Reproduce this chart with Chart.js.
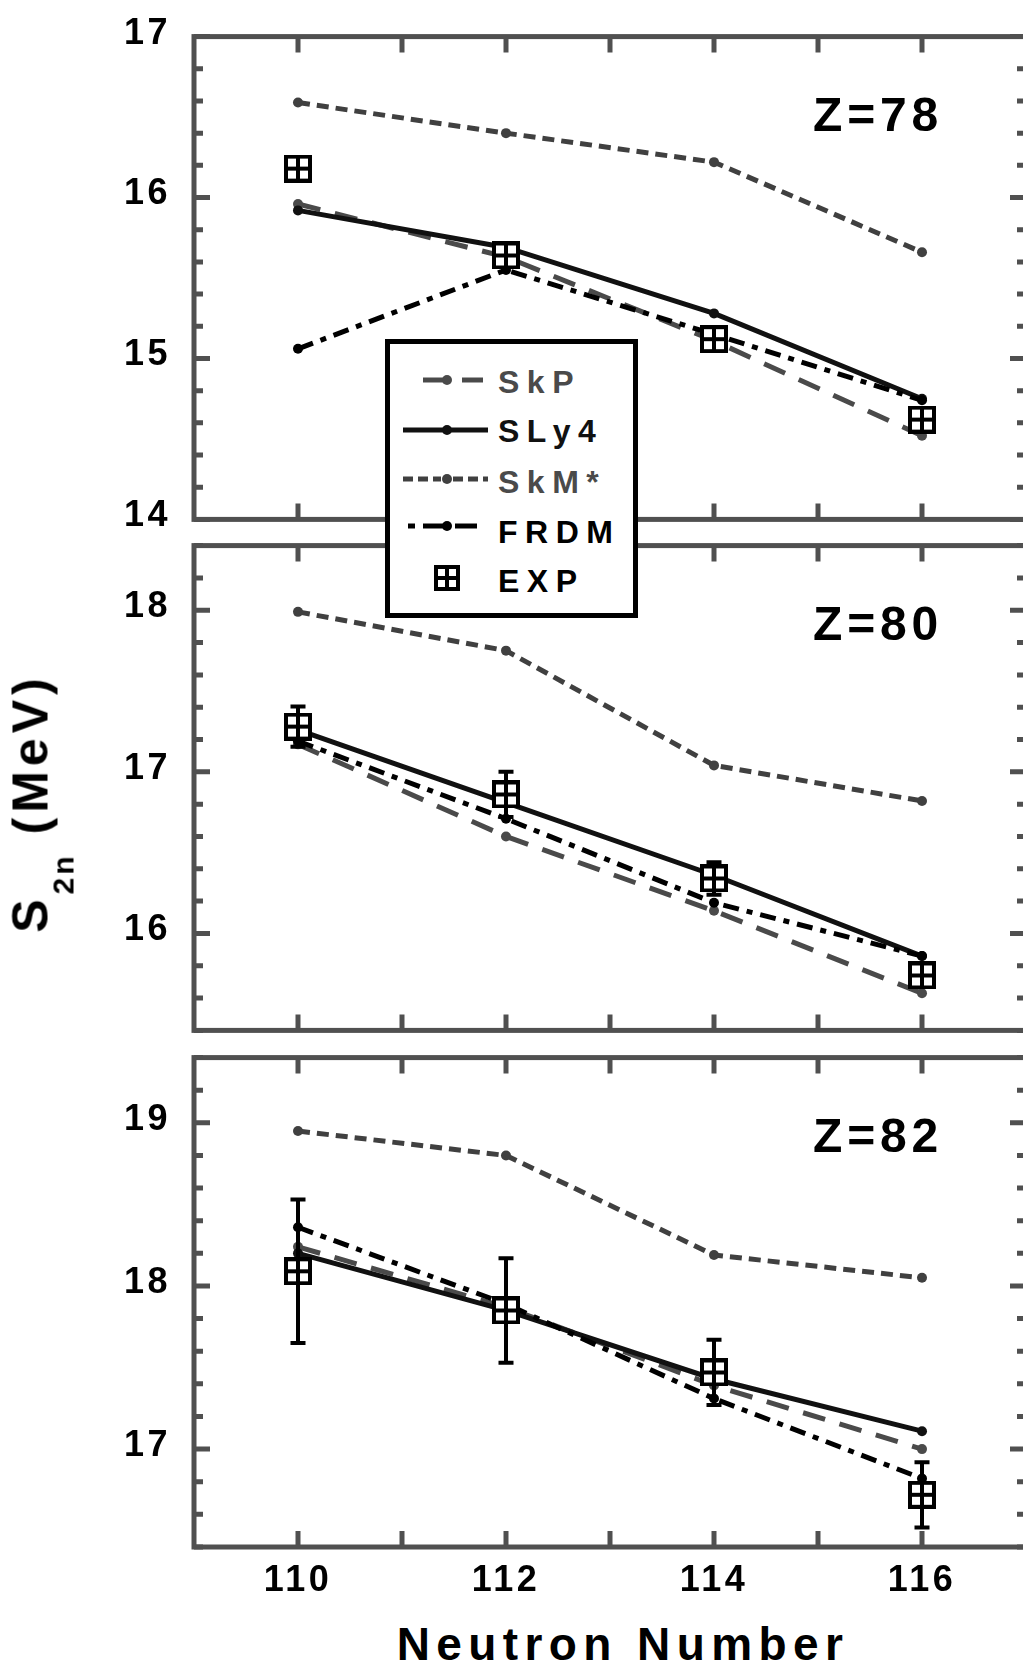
<!DOCTYPE html>
<html>
<head>
<meta charset="utf-8">
<title>S2n vs Neutron Number</title>
<script src="https://cdn.jsdelivr.net/npm/chart.js@4.4.1/dist/chart.umd.min.js"></script>
<style>
  html, body { margin: 0; padding: 0; background: #fff; }
  #page { position: relative; width: 1023px; height: 1668px; overflow: hidden; background: #fff;
          font-family: "Liberation Sans", Arial, sans-serif; font-weight: bold; color: #000; }
  #page canvas { position: absolute; left: 0; }
  #ytitle { position: absolute; left: 34px; top: 803px; transform: translate(-50%, -50%) rotate(-90deg);
            font-size: 50px; line-height: 50px; letter-spacing: 5px; white-space: nowrap; }
  #ytitle .sub { font-size: 30px; letter-spacing: 3px; position: relative; top: 26px; }
  #xtitle { position: absolute; left: 623px; top: 1621px; transform: translateX(-50%);
            font-size: 46px; line-height: 46px; letter-spacing: 6.4px; white-space: nowrap; }
  #legend { position: absolute; left: 385px; top: 339px; width: 253px; height: 279px; box-sizing: border-box;
            border: 5px solid #000; background: #fff; z-index: 5; }
  #legend svg { position: absolute; left: 0; top: 0; }
  #legend .lab { position: absolute; left: 108px; font-size: 32px; line-height: 32px; letter-spacing: 7.5px; white-space: nowrap; }
</style>
</head>
<body>
<div id="page">
  <canvas id="c78"></canvas>
  <canvas id="c80"></canvas>
  <canvas id="c82"></canvas>
  <div id="ytitle">S<span class="sub">2n</span> (MeV)</div>
  <div id="xtitle">Neutron Number</div>
  <div id="legend"></div>
</div>
<script>
// x axis: neutron number
const neutronNumbers = [110, 112, 114, 116];
const xTickValues = [110, 112, 114, 116];
const xRange = [109, 117];

const seriesNames = ['SkP', 'SLy4', 'SkM*', 'FRDM', 'EXP'];

// Z = 78
const z78Label = 'Z=78';
const yRange78 = [14, 17];
const yTicks78 = [14, 15, 16, 17];
const skp78  = [15.96, 15.63, 15.11, 14.52];
const sly478 = [15.92, 15.69, 15.28, 14.75];
const skm78  = [16.59, 16.40, 16.22, 15.66];
const frdm78 = [15.06, 15.55, 15.15, 14.74];
const exp78  = [16.18, 15.64, 15.12, 14.62];
const err78  = [0, 0, 0, 0];

// Z = 80
const z80Label = 'Z=80';
const yRange80 = [15.4, 18.4];
const yTicks80 = [16, 17, 18];
const skp80  = [17.17, 16.60, 16.14, 15.63];
const sly480 = [17.26, 16.81, 16.36, 15.86];
const skm80  = [17.99, 17.75, 17.04, 16.82];
const frdm80 = [17.19, 16.71, 16.19, 15.86];
const exp80  = [17.28, 16.86, 16.34, 15.74];
const err80  = [0.125, 0.14, 0.10, 0.05];

// Z = 82
const z82Label = 'Z=82';
const yRange82 = [16.4, 19.4];
const yTicks82 = [17, 18, 19];
const skp82  = [18.24, 17.87, 17.39, 17.00];
const sly482 = [18.20, 17.85, 17.43, 17.11];
const skm82  = [18.95, 18.80, 18.19, 18.05];
const frdm82 = [18.36, 17.89, 17.31, 16.82];
const exp82  = [18.09, 17.85, 17.47, 16.72];
const err82  = [0.44, 0.32, 0.20, 0.20];

// look
const GRAY = '#4a4a4a';
const DARKGRAY = '#404040';
const BLACK = '#111';
const FRAME = '#505050';
const PLOT_LEFT = 194, PLOT_RIGHT = 1026, CANVAS_W = 1040, PAD = 40, XAXIS_H = 70;

Chart.defaults.font.family = '"Liberation Sans", Arial, sans-serif';

function makeExpMarker(size) {
    const c = document.createElement('canvas');
    c.width = size;
    c.height = size;
    const g = c.getContext('2d');
    const t = 4, cell = (size - 3 * t) / 2;
    g.fillStyle = '#000';
    g.fillRect(0, 0, size, size);
    g.fillStyle = '#fff';
    g.fillRect(t, t, cell, cell);
    g.fillRect(2 * t + cell, t, cell, cell);
    g.fillRect(t, 2 * t + cell, cell, cell);
    g.fillRect(2 * t + cell, 2 * t + cell, cell, cell);
    return c;
}
const expMarker = makeExpMarker(28);

function pts(ys) {
    return neutronNumbers.map((x, i) => ({ x: x, y: ys[i] }));
}

function lineSet(name, ys, color, width, dash) {
    return {
        label: name,
        data: pts(ys),
        borderColor: color,
        backgroundColor: color,
        borderWidth: width,
        borderDash: dash,
        pointRadius: 5,
        pointBorderWidth: 0,
        pointBackgroundColor: color,
        tension: 0,
        fill: false
    };
}

// frame, inward ticks and the Z label
const framePlugin = {
    id: 'frame',
    beforeDraw(chart) {
        chart.ctx.letterSpacing = '3.5px';
    },
    beforeDatasetsDraw(chart, args, opts) {
        const ctx = chart.ctx, a = chart.chartArea;
        const xs = chart.scales.x, ys = chart.scales.y;
        ctx.save();
        ctx.strokeStyle = FRAME;
        ctx.lineWidth = 5;
        ctx.strokeRect(a.left, a.top, a.right - a.left, a.bottom - a.top);
        ctx.beginPath();
        for (let v = Math.ceil(xs.min) + 1; v < xs.max; v++) {
            const px = xs.getPixelForValue(v);
            ctx.moveTo(px, a.top); ctx.lineTo(px, a.top + 16);
            ctx.moveTo(px, a.bottom); ctx.lineTo(px, a.bottom - 16);
        }
        const k0 = Math.ceil(ys.min * 5 - 1e-6), k1 = Math.floor(ys.max * 5 + 1e-6);
        for (let k = k0; k <= k1; k++) {
            const py = ys.getPixelForValue(k / 5);
            const len = k % 5 === 0 ? 16 : 9;
            ctx.moveTo(a.left, py); ctx.lineTo(a.left + len, py);
            ctx.moveTo(a.right, py); ctx.lineTo(a.right - len, py);
        }
        ctx.stroke();

        ctx.fillStyle = '#000';
        ctx.font = 'bold 48px "Liberation Sans", Arial, sans-serif';
        ctx.letterSpacing = '4.8px';
        ctx.textAlign = 'right';
        ctx.textBaseline = 'alphabetic';
        ctx.fillText(opts.label, 943, a.top + 94);
        ctx.restore();
    }
};

// error bars go under the EXP squares but over the model lines
const errorBarPlugin = {
    id: 'errorBars',
    beforeDatasetDraw(chart, args) {
        const ds = chart.data.datasets[args.index];
        if (!ds.errors) return;
        const ctx = chart.ctx, xs = chart.scales.x, ys = chart.scales.y;
        ctx.save();
        ctx.strokeStyle = '#000';
        ctx.lineWidth = 4;
        ctx.beginPath();
        ds.data.forEach((p, i) => {
            const e = ds.errors[i];
            if (!e) return;
            const px = xs.getPixelForValue(p.x);
            const y1 = ys.getPixelForValue(p.y + e), y2 = ys.getPixelForValue(p.y - e);
            ctx.moveTo(px, y1); ctx.lineTo(px, y2);
            ctx.moveTo(px - 7.5, y1); ctx.lineTo(px + 7.5, y1);
            ctx.moveTo(px - 7.5, y2); ctx.lineTo(px + 7.5, y2);
        });
        ctx.stroke();
        ctx.restore();
    }
};

const panels = [
    { id: 'c78', label: z78Label, top: 32, bottom: 524, yRange: yRange78, yTicks: yTicks78,
      skp: skp78, sly4: sly478, skm: skm78, frdm: frdm78, exp: exp78, err: err78, showX: false },
    { id: 'c80', label: z80Label, top: 541, bottom: 1035, yRange: yRange80, yTicks: yTicks80,
      skp: skp80, sly4: sly480, skm: skm80, frdm: frdm80, exp: exp80, err: err80, showX: false },
    { id: 'c82', label: z82Label, top: 1053, bottom: 1547, yRange: yRange82, yTicks: yTicks82,
      skp: skp82, sly4: sly482, skm: skm82, frdm: frdm82, exp: exp82, err: err82, showX: true }
];

panels.forEach(p => {
    const canvas = document.getElementById(p.id);
    const bottomExtra = p.showX ? XAXIS_H : PAD;
    canvas.width = CANVAS_W;
    canvas.height = (p.bottom - p.top) + PAD + bottomExtra;
    canvas.style.top = (p.top - PAD) + 'px';

    const tickFont = { size: 36, weight: 'bold' };

    new Chart(canvas, {
        type: 'line',
        data: {
            datasets: [
                {
                    label: seriesNames[4],
                    data: pts(p.exp),
                    errors: p.err,
                    showLine: false,
                    pointStyle: expMarker,
                    pointRadius: 14,
                    borderColor: '#000',
                    backgroundColor: '#fff'
                },
                lineSet(seriesNames[3], p.frdm, '#000', 5, [16, 8, 6, 8]),
                lineSet(seriesNames[1], p.sly4, BLACK, 5, []),
                lineSet(seriesNames[0], p.skp, GRAY, 5, [23, 15]),
                lineSet(seriesNames[2], p.skm, DARKGRAY, 5, [12, 7])
            ]
        },
        options: {
            responsive: false,
            animation: false,
            devicePixelRatio: 1,
            layout: {
                autoPadding: false,
                padding: { top: PAD, bottom: p.showX ? 0 : PAD, left: 0, right: CANVAS_W - PLOT_RIGHT }
            },
            plugins: {
                legend: { display: false },
                tooltip: { enabled: false },
                frame: { label: p.label }
            },
            scales: {
                x: {
                    type: 'linear',
                    min: xRange[0],
                    max: xRange[1],
                    display: p.showX,
                    grid: { display: false, drawTicks: false },
                    border: { display: false },
                    ticks: { font: tickFont, color: '#000', padding: 12, maxRotation: 0, autoSkip: false },
                    afterBuildTicks: s => { s.ticks = xTickValues.map(v => ({ value: v })); },
                    afterFit: s => { s.height = p.showX ? XAXIS_H : 0; }
                },
                y: {
                    min: p.yRange[0],
                    max: p.yRange[1],
                    grid: { display: false, drawTicks: false },
                    border: { display: false },
                    ticks: { font: tickFont, color: '#000', padding: 23, labelOffset: -3 },
                    afterBuildTicks: s => { s.ticks = p.yTicks.map(v => ({ value: v })); },
                    afterFit: s => { s.width = PLOT_LEFT; }
                }
            }
        },
        plugins: [framePlugin, errorBarPlugin]
    });
});

// legend box (positions relative to its inner box at page x 390, y 344)
function buildLegend() {
    const box = document.getElementById('legend');
    const ox = 390, oy = 344;
    const ns = 'http://www.w3.org/2000/svg';
    const svg = document.createElementNS(ns, 'svg');
    svg.setAttribute('width', 243);
    svg.setAttribute('height', 269);
    function line(x1, x2, y, color, w, dash) {
        const l = document.createElementNS(ns, 'line');
        l.setAttribute('x1', x1 - ox); l.setAttribute('x2', x2 - ox);
        l.setAttribute('y1', y - oy); l.setAttribute('y2', y - oy);
        l.setAttribute('stroke', color); l.setAttribute('stroke-width', w);
        if (dash) l.setAttribute('stroke-dasharray', dash);
        svg.appendChild(l);
    }
    function dot(x, y, color) {
        const c = document.createElementNS(ns, 'circle');
        c.setAttribute('cx', x - ox); c.setAttribute('cy', y - oy);
        c.setAttribute('r', 5); c.setAttribute('fill', color);
        svg.appendChild(c);
    }
    // SkP
    line(423, 447, 380, GRAY, 5); dot(447, 380, GRAY); line(462, 483, 380, GRAY, 5);
    // SLy4
    line(403, 488, 430, BLACK, 5); dot(447, 430, BLACK);
    // SkM*
    line(403, 441, 479, DARKGRAY, 5, '10 5'); dot(447, 479, DARKGRAY); line(453, 488, 479, DARKGRAY, 5, '10 5');
    // FRDM
    line(408, 415, 526, '#000', 5); line(423, 447, 526, '#000', 5); dot(447, 526, '#000'); line(455, 477, 526, '#000', 5);
    // EXP
    const r = document.createElementNS(ns, 'rect');
    r.setAttribute('x', 447 - 11 - ox); r.setAttribute('y', 578 - 11 - oy);
    r.setAttribute('width', 22); r.setAttribute('height', 22);
    r.setAttribute('fill', '#fff'); r.setAttribute('stroke', '#000'); r.setAttribute('stroke-width', 4);
    svg.appendChild(r);
    const cross = document.createElementNS(ns, 'path');
    cross.setAttribute('d', `M${447 - ox} ${567 - oy} V${589 - oy} M${436 - ox} ${578 - oy} H${458 - ox}`);
    cross.setAttribute('stroke', '#000'); cross.setAttribute('stroke-width', 4);
    svg.appendChild(cross);
    box.appendChild(svg);

    const baselines = [393, 442, 493, 543, 592];
    const colors = [GRAY, BLACK, GRAY, '#000', '#000'];
    seriesNames.forEach((name, i) => {
        const d = document.createElement('div');
        d.className = 'lab';
        d.textContent = name;
        d.style.top = (baselines[i] - oy - 27.1) + 'px';
        d.style.color = colors[i];
        box.appendChild(d);
    });
}
buildLegend();
</script>
</body>
</html>
